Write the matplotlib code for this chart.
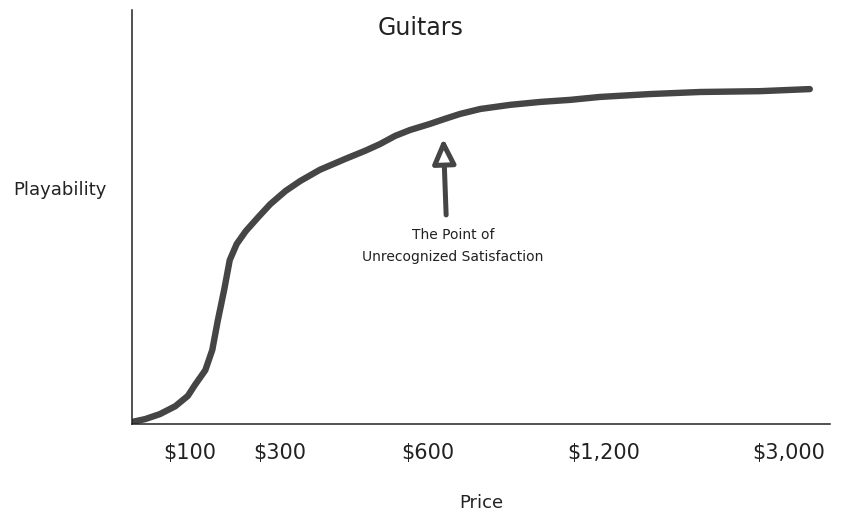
import matplotlib
matplotlib.use("Agg")
import matplotlib.pyplot as plt

# curve, in axis units (x: 0-100 position along the price axis, y: 0-100 playability)
curve_x = [0, 1.9, 4.0, 6.2, 8.0, 9.0, 10.5, 11.5, 12.3, 13.2, 14.0, 15.0, 16.3,
           18.1, 19.8, 22.0, 24.1, 26.9, 30.5, 33.4, 35.5, 37.7, 39.8, 42.7,
           44.8, 47.0, 49.9, 54.2, 58.5, 62.8, 67.0, 74.2, 81.4, 90.0, 97.1]
curve_y = [0.5, 1.2, 2.4, 4.3, 6.8, 9.4, 13.0, 17.9, 25.1, 32.4, 39.6, 43.5, 46.6,
           50.0, 53.1, 56.3, 58.7, 61.4, 64.0, 66.0, 67.6, 69.6, 71.0, 72.5,
           73.7, 74.9, 76.1, 77.1, 77.8, 78.3, 79.0, 79.7, 80.2, 80.4, 80.9]

tick_pos = [8.3, 21.2, 42.4, 67.6, 94.1]
tick_labels = ["$100", "$300", "$600", "$1,200", "$3,000"]

ink = "#222222"
line_col = "#454545"

fig = plt.figure(figsize=(8.42, 5.27), dpi=100)
ax = fig.add_axes([0.1568, 0.1954, 0.829, 0.7856])

ax.plot(curve_x, curve_y, color=line_col, lw=4.6, solid_capstyle="round",
        solid_joinstyle="round")

ax.set_xlim(0, 100)
ax.set_ylim(0, 100)
for s in ["top", "right"]:
    ax.spines[s].set_visible(False)
for s in ["left", "bottom"]:
    ax.spines[s].set_color(ink)
    ax.spines[s].set_linewidth(1.1)

ax.set_xticks(tick_pos)
ax.set_xticklabels(tick_labels, fontsize=15, color=ink)
ax.tick_params(axis="x", length=0, pad=14)
ax.set_yticks([])

ax.set_xlabel("Price", fontsize=13, color=ink, labelpad=22)
fig.text(0.071, 0.64, "Playability", fontsize=13, color=ink, ha="center", va="center")
fig.text(0.5, 0.947, "Guitars", fontsize=17, color=ink, ha="center", va="center")

# arrow pointing at the curve
ax.annotate("", xy=(44.6, 69.0), xytext=(45.0, 50.5),
            arrowprops=dict(arrowstyle="-|>,head_length=1.5,head_width=0.7",
                            color=line_col, fc="white", lw=3.6,
                            shrinkA=0, shrinkB=0))
ax.text(46.0, 43.0, "The Point of\nUnrecognized Satisfaction", fontsize=10,
        color=ink, ha="center", va="center", linespacing=1.7)

fig.savefig("out.png", dpi=100)
